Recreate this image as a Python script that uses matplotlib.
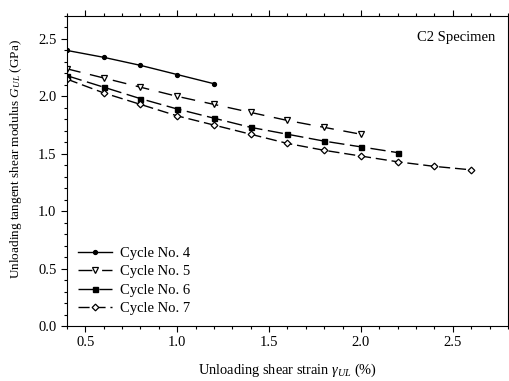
import matplotlib
matplotlib.use("Agg")
import matplotlib.pyplot as plt
from matplotlib.ticker import MultipleLocator

plt.rcParams['font.family'] = ['Liberation Serif', 'DejaVu Serif']
plt.rcParams['mathtext.fontset'] = 'custom'
plt.rcParams['mathtext.rm'] = 'Liberation Serif'
plt.rcParams['mathtext.it'] = 'Liberation Serif:italic'

x4 = [0.4, 0.6, 0.8, 1.0, 1.2]
y4 = [2.40, 2.34, 2.27, 2.19, 2.11]
x5 = [0.4, 0.6, 0.8, 1.0, 1.2, 1.4, 1.6, 1.8, 2.0]
y5 = [2.24, 2.16, 2.08, 2.00, 1.93, 1.86, 1.79, 1.73, 1.67]
x6 = [0.4, 0.6, 0.8, 1.0, 1.2, 1.4, 1.6, 1.8, 2.0, 2.2]
y6 = [2.18, 2.08, 1.98, 1.89, 1.81, 1.73, 1.67, 1.61, 1.56, 1.51]
x7 = [0.4, 0.6, 0.8, 1.0, 1.2, 1.4, 1.6, 1.8, 2.0, 2.2, 2.4, 2.6]
y7 = [2.15, 2.03, 1.93, 1.83, 1.75, 1.67, 1.59, 1.53, 1.48, 1.43, 1.39, 1.36]
labels = ['Cycle No. 4', 'Cycle No. 5', 'Cycle No. 6', 'Cycle No. 7']

fig = plt.figure(figsize=(5.09, 3.81), dpi=100)
ax = fig.add_axes([0.1316, 0.1444, 0.8664, 0.8136])

ax.plot(x4, y4, color='black', lw=1.0, marker='o', ms=2.8, mfc='black', mec='black', label=labels[0])
ax.plot(x5, y5, color='black', lw=1.0, marker='v', ms=4.2, mfc='white', mec='black', mew=0.9,
        dashes=(10, 7), label=labels[1])
ax.plot(x6, y6, color='black', lw=1.0, marker='s', ms=3.6, mfc='black', mec='black',
        dashes=(11, 4), label=labels[2])
ax.plot(x7, y7, color='black', lw=1.0, marker='D', ms=3.4, mfc='white', mec='black', mew=0.9,
        dashes=(8, 3.5), label=labels[3])

ax.set_xlim(0.4, 2.8)
ax.set_ylim(0.0, 2.7)
ax.xaxis.set_major_locator(MultipleLocator(0.5))
ax.xaxis.set_minor_locator(MultipleLocator(0.1))
ax.yaxis.set_major_locator(MultipleLocator(0.5))
ax.yaxis.set_minor_locator(MultipleLocator(0.1))
ax.tick_params(which='both', top=True, right=True, direction='out', labelsize=10.5, width=0.8)
ax.tick_params(which='major', length=4)
ax.tick_params(which='minor', length=2)
ax.xaxis.set_major_formatter(plt.FuncFormatter(lambda v, p: f"{v:.1f}"))
ax.yaxis.set_major_formatter(plt.FuncFormatter(lambda v, p: f"{v:.1f}"))
for s in ax.spines.values():
    s.set_linewidth(0.8)

ax.set_xlabel(r'Unloading shear strain $\gamma_{UL}$ (%)', fontsize=10.4, labelpad=9)
ax.set_ylabel(r'Unloading tangent shear modulus $G_{UL}$ (GPa)', fontsize=9.5)
ax.yaxis.set_label_coords(-0.098, 0.54)
ax.text(0.97, 0.93, 'C2 Specimen', transform=ax.transAxes, ha='right', va='center', fontsize=10.5)

ax.legend(loc='lower left', frameon=False, fontsize=10.5, handlelength=2.35, handletextpad=0.55,
          labelspacing=0.36, borderpad=0, borderaxespad=0, bbox_to_anchor=(0.025, 0.035))

fig.savefig('out.png', dpi=100)
